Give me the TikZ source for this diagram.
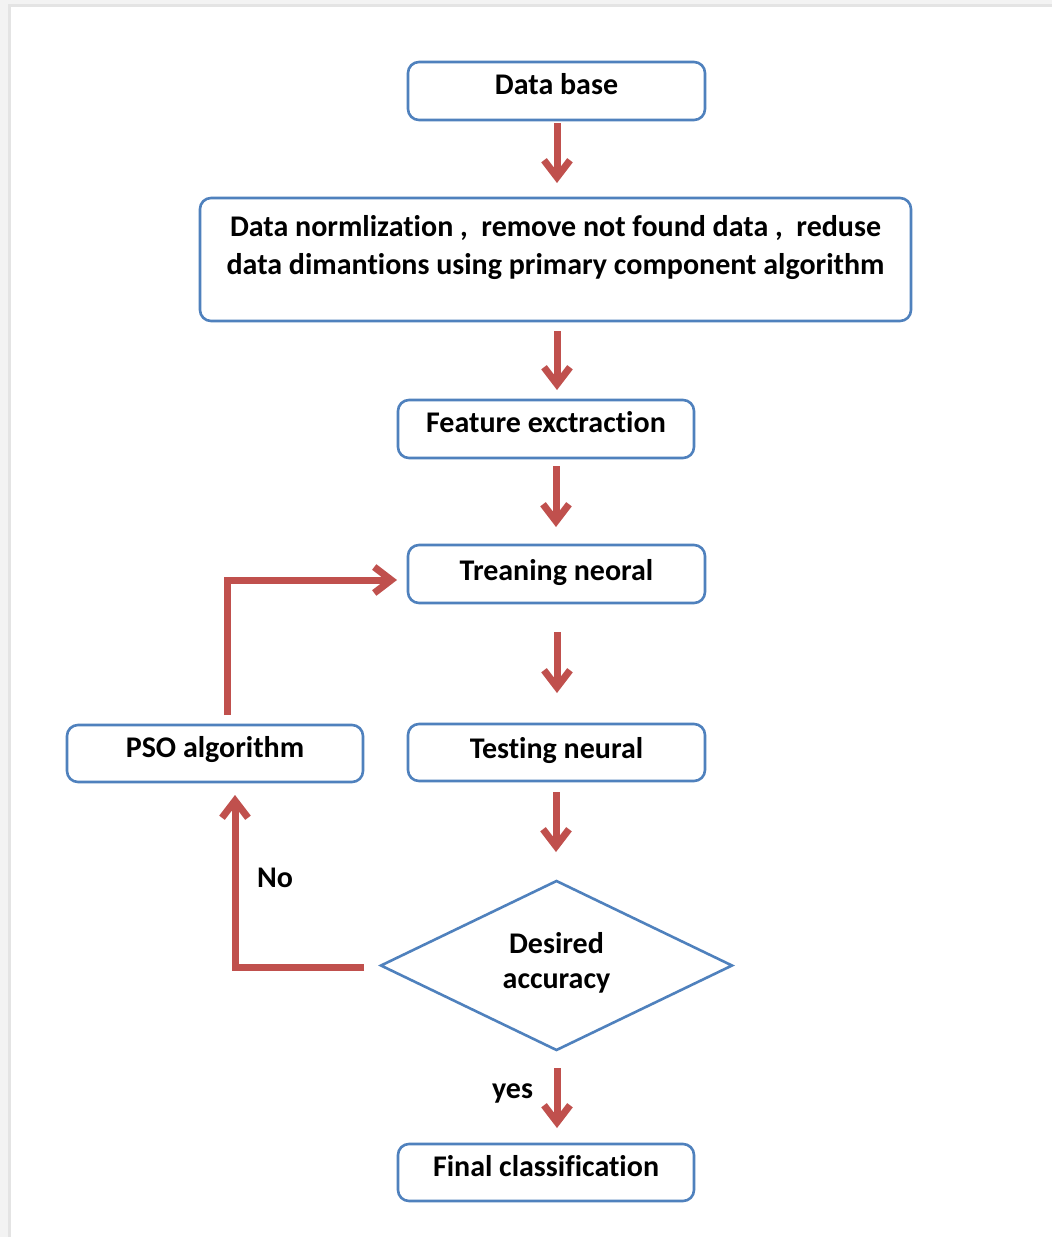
\documentclass[tikz,border=0pt]{standalone}
\usepackage{fontspec}
\setmainfont{Carlito}[Ligatures=NoCommon]
\usetikzlibrary{arrows.meta,shapes.geometric,calc}
\definecolor{boxblue}{HTML}{4F81BD}
\definecolor{arrred}{HTML}{C0504D}
\definecolor{bgA}{HTML}{F3F3F3}
\definecolor{bgB}{HTML}{E4E4E4}
\begin{document}
\begin{tikzpicture}[x=1pt,y=-1pt,
  txt/.style={font=\fontsize{30}{38}\selectfont\bfseries},
  box/.style={txt, draw=boxblue, line width=2.6pt, rounded corners=11pt, fill=white,
              inner sep=0pt, outer sep=0pt, anchor=base},
  dec/.style={diamond, draw=boxblue, line width=2.6pt, fill=white, inner sep=0pt,
              outer sep=0pt, aspect=2.08, minimum width=351pt, minimum height=169pt,
              font=\fontsize{30}{35}\selectfont\bfseries},
  arr/.style={draw=arrred, line width=7pt, line join=miter,
              -{Straight Barb[length=17pt,width=26pt,line width=7pt]}},
  lbl/.style={txt, inner sep=0pt, outer sep=0pt}
]
\useasboundingbox (0,0) rectangle (1052,1237);
\fill[bgA] (0,0) rectangle (1052,1237);
\fill[bgB] (8,4) rectangle (1052,1237);
\fill[white] (11,7) rectangle (1052,1237);

\node[box, minimum width=297pt, text height=32pt, text depth=26pt] (db) at (556.5,94) {Data base};
\node[box, minimum width=711pt, text height=38pt, text depth=85pt] (norm) at (555.5,236)
  {\begin{tabular}[t]{@{}c@{}}Data normlization ,\ \ remove not found data ,\ \ reduse\\ data dimantions using primary component algorithm\end{tabular}};
\node[box, minimum width=296pt, text height=32pt, text depth=26pt] (fe) at (546,432) {Feature exctraction};
\node[box, minimum width=297pt, text height=35pt, text depth=23pt] (tr) at (556.5,580) {Treaning neoral};
\node[box, minimum width=297pt, text height=34pt, text depth=23pt] (te) at (556.5,758) {Testing neural};
\node[box, minimum width=296pt, text height=32pt, text depth=25pt] (pso) at (215,757) {PSO algorithm};
\node[dec, text height=20pt, text depth=45pt] (acc) at (556.5,965.5)
  {\begin{tabular}[t]{@{}c@{}}Desired\\ accuracy\end{tabular}};
\node[box, minimum width=296pt, text height=32pt, text depth=25pt] (fin) at (546,1176) {Final classification};

\node[lbl, anchor=base west] (no) at (257,887) {No};
\node[lbl, anchor=base east] (yes) at (533,1098) {yes};

\draw[arr] ($(db.south)+(0.5,3)$) -- ($(norm.north)+(1.5,-15)$);
\draw[arr] ($(norm.south)+(1.5,10)$) -- ($(fe.north)+(11,-10)$);
\draw[arr] ($(fe.south)+(10,8)$) -- ($(tr.north)+(-0.5,-18)$);
\draw[arr] ($(tr.south)+(0.5,29)$) -- ($(te.north)+(0.5,-31)$);
\draw[arr] ($(te.south)+(-0.5,11)$) -- ($(acc.north)+(-0.5,-29)$);
\draw[arr] ($(acc.south)+(0.5,18)$) -- ($(fin.north)+(11,-16)$);
\draw[arr] ($(acc.west)+(-17,1.5)$) -| ($(pso.south)+(20,13)$);
\draw[arr] ($(pso.north)+(12,-10)$) |- ($(tr.west)+(-11,6)$);
\end{tikzpicture}
\end{document}
